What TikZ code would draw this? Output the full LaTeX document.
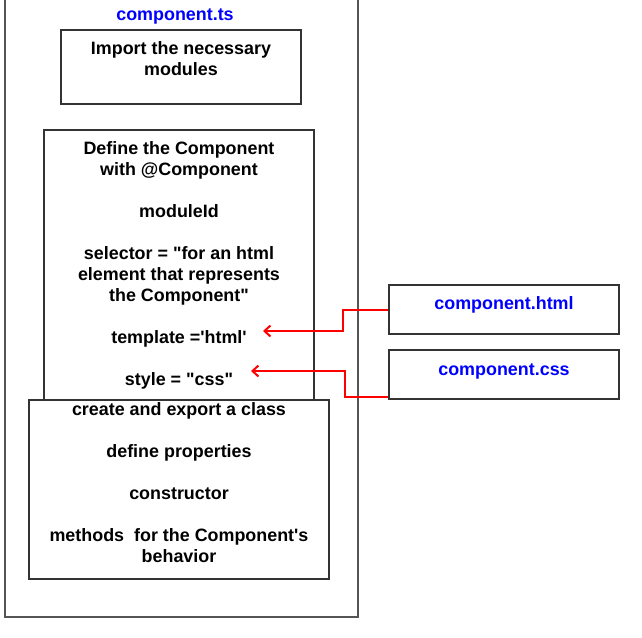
\documentclass[tikz,border=0pt]{standalone}
\usepackage{fontspec}
\setmainfont{Liberation Sans}
\usetikzlibrary{arrows.meta}
\definecolor{boxline}{HTML}{333333}
\definecolor{outerline}{HTML}{555555}
\definecolor{fileblue}{HTML}{0000FF}
\definecolor{linkred}{HTML}{FF0000}
\newcommand{\dq}{\textquotedbl}
\newcommand{\sq}{\textquotesingle}

\begin{document}
\begin{tikzpicture}[x=1pt,y=-1pt,
	every node/.style={font=\bfseries\fontsize{17.9}{21}\selectfont,align=center,inner sep=0pt},
	box/.style={draw=boxline,line width=2pt,fill=white},
	fname/.style={text=fileblue},
	link/.style={draw=linkred,line width=2pt,-{Straight Barb[length=6pt,width=11pt,line width=2pt]}}]
	\useasboundingbox (0,0) rectangle (642,637);
	\clip (0,0) rectangle (642,637);
	
	% component.ts container
	\node[box,draw=outerline,minimum width=353,minimum height=622] (tsfile) at (181.5,306) {};
	\node[fname] (tstitle) at (175,17) {component.ts};
	
	\node[box,minimum width=240,minimum height=74,text depth=16pt] (import) at (181,67)
		{Import the necessary\\modules};
	\node[box,minimum width=270,minimum height=270,text depth=2pt] (define) at (179,265)
		{Define the Component\\with @Component\\[21pt]
		 moduleId\\[21pt]
		 selector = \dq for an html\\element that represents\\the Component\dq\\[21pt]
		 template =\sq html\sq\\[21pt]
		 style = \dq css\dq};
	\node[box,minimum width=300,minimum height=179,text depth=14pt] (class) at (179,489.5)
		{create and export a class\\[21pt]
		 define properties\\[21pt]
		 constructor\\[21pt]
		 methods\ \ for the Component\sq s\\behavior};
	
	% external files
	\node[box,fname,minimum width=230,minimum height=49,text depth=13pt] (html) at (504,309.5) {component.html};
	\node[box,fname,minimum width=230,minimum height=49,text depth=9pt] (css) at (504,374.5) {component.css};
	
	\coordinate (tplref) at (263,331);
	\coordinate (styref) at (251,371);
	\draw[link] (html.west) -- ++(-45,0) |- (tplref);
	\draw[link] ([yshift=3pt]css.south west) -- ++(-43,0) |- (styref);
\end{tikzpicture}
\end{document}
